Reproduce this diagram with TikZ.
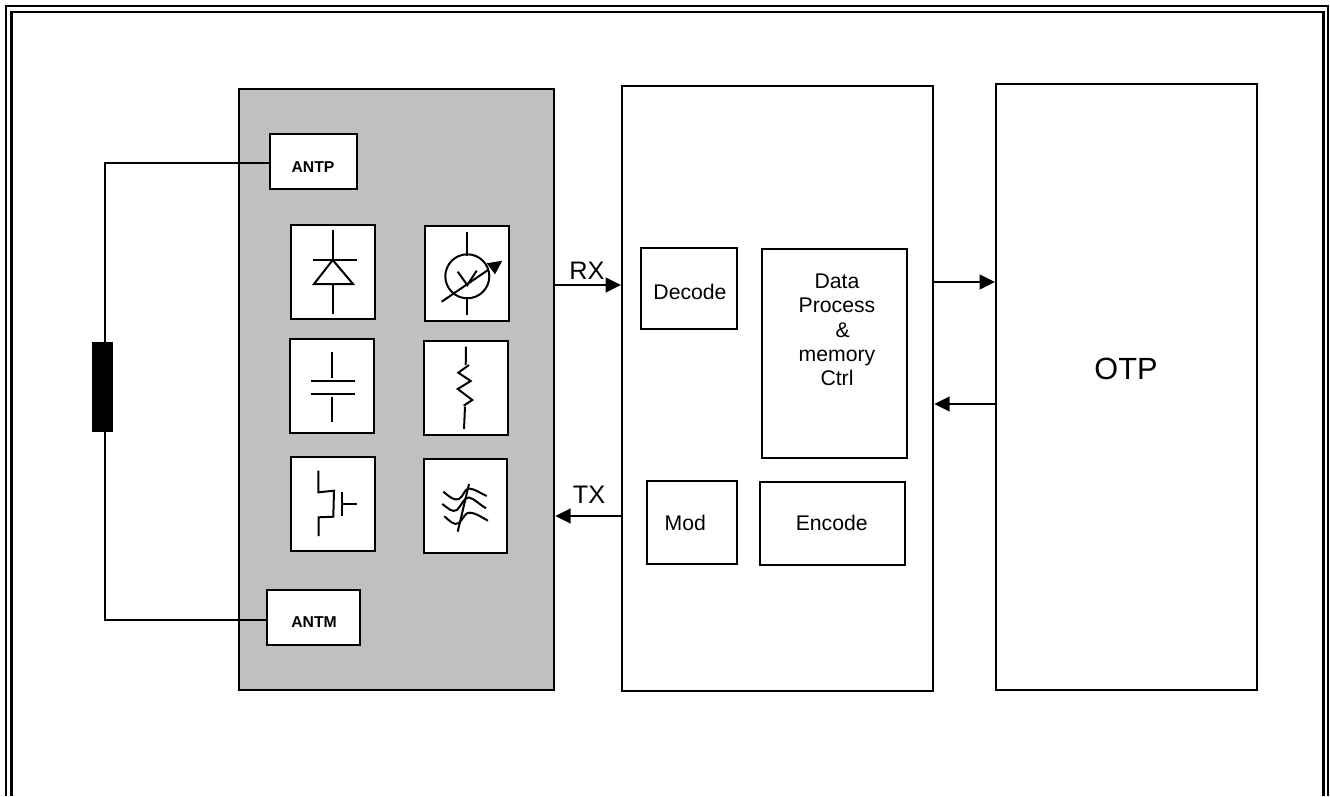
\documentclass[tikz,border=0pt]{standalone}
\usepackage{fontspec}
\setmainfont{Liberation Sans}
\usepackage{xcolor}
\usetikzlibrary{arrows.meta,positioning,calc}
\definecolor{chipgray}{HTML}{C0C0C0}
\tikzset{
  >={Triangle[length=11.5pt,width=11pt]},
  blk/.style   ={rectangle, draw, line width=1.4pt, fill=white, inner sep=0pt, anchor=north west},
  chip/.style  ={blk, fill=chipgray},
  pad/.style   ={blk},
  cell/.style  ={blk, line width=1.6pt},
  padt/.style  ={inner sep=0pt, font=\fontsize{11.8}{14}\selectfont\bfseries},
  txt/.style   ={inner sep=0pt, font=\fontsize{15.9}{18.3}\selectfont, align=center},
  big/.style   ={inner sep=0pt, font=\fontsize{23}{26}\selectfont},
  sig/.style   ={inner sep=0pt, font=\fontsize{19}{22}\selectfont},
  con/.style   ={->, draw, line width=1.4pt},
  wire/.style  ={draw, line width=1.5pt},
  sym/.style   ={draw, line width=1.5pt},
}
\begin{document}
\begin{tikzpicture}[x=0.75pt,y=-0.75pt]
\useasboundingbox (0,0) rectangle (1330,796);
% frame
\draw[line width=1.8pt] (6,796) -- (6,6) -- (1328,6) -- (1328,796);
\draw[line width=1.8pt] (11.5,796) -- (11.5,12) -- (1323.5,12) -- (1323.5,796);
% big blocks
\node[chip, minimum width=236.5pt, minimum height=451pt] (rf) at (238,88) {};
\node[blk, minimum width=233.5pt, minimum height=454pt] (dig) at (621,85) {};
\node[blk, minimum width=196pt, minimum height=454.5pt] (otp) at (995,83) {};
\node[big] (otpt) at (1126,369) {OTP};
% antenna
\node[rectangle, fill=black, draw, minimum width=15pt, minimum height=66.5pt, inner sep=0pt, anchor=north west] (coil) at (92,342) {};
\coordinate (coilt) at ([xshift=2pt]coil.north);
\coordinate (coilb) at ([xshift=2pt]coil.south);
\node[pad, minimum width=65.5pt, minimum height=41.5pt] (antp) at (269,133) {};
\node[pad, minimum width=70pt, minimum height=41.5pt] (antm) at (266,589) {};
\node[padt] (antpt) at (313,167.5) {ANTP};
\node[padt] (antmt) at (314,622) {ANTM};
\coordinate (antpw) at ([yshift=-0.9pt]antp.west);
\coordinate (antmw) at ([yshift=-2pt]antm.west);
\draw[wire] (antpw) -| (coilt);
\draw[wire] (antmw) -| (coilb);
% component cells
\node[cell, minimum width=63pt, minimum height=70.5pt] (diode) at (290,224) {};
\node[cell, minimum width=63pt, minimum height=71pt] (meter) at (424,225) {};
\node[cell, minimum width=63pt, minimum height=70.5pt] (capc) at (289,338) {};
\node[cell, minimum width=63pt, minimum height=70.5pt] (resc) at (423,340) {};
\node[cell, minimum width=63pt, minimum height=70.5pt] (fet) at (290,456) {};
\node[cell, minimum width=62.5pt, minimum height=70.5pt] (vari) at (423,458) {};
% diode
\draw[sym] (332.7,229.7) -- (332.7,260);
\draw[sym] (313,260) -- (357,260);
\draw[sym] (332.7,260) -- (314,284) -- (353,284) -- cycle;
\draw[sym] (332.7,283) -- (332.7,313.7);
% meter
\draw[sym] (467,232) -- (467,256);
\draw[sym] (467,297) -- (467,315);
\draw[sym] (467.3,276.3) circle (16.5pt);
\draw[sym] (457.7,271.7) -- (467.3,285) -- (476.7,270.7);
\draw[sym] (441.7,301.7) -- (488,270);
\fill (502.3,260.7) -- (486.7,263.3) -- (495,274.3) -- cycle;
% capacitor
\draw[sym] (331.7,352.3) -- (331.7,378.3);
\draw[sym] (311.3,380.7) -- (355,380.7);
\draw[sym] (311.3,394.3) -- (355,394.3);
\draw[sym] (331.7,396.7) -- (331.7,421.7);
% resistor
\draw[sym] (466,346.7) -- (465.7,365);
\draw[sym] (469,365) -- (458.3,372.7) -- (470.7,381) -- (457.7,389) -- (472.3,400) -- (463.7,405.7);
\draw[sym] (465,406.7) -- (464,429);
% transistor
\draw[sym] (318.3,470.7) -- (318.3,492.3) -- (334,490.7) -- (333.3,516.7) -- (318.7,517.3) -- (318.7,536);
\draw[sym] (342,492.3) -- (342,515.7);
\draw[sym] (342,504) -- (356.7,504);
% varactor
\draw[sym] (469,484) -- (457.7,531.7);
\draw[sym] (443.3,491.7) .. controls (450,497) and (454,501) .. (459,499) .. controls (464,496) and (464,489) .. (469,488.5) .. controls (475,489) and (480,493) .. (486.7,496);
\draw[sym] (442.3,504) .. controls (448,508) and (452,513) .. (457,510) .. controls (462,505) and (464,497) .. (469,497.5) .. controls (475,499) and (480,505) .. (486,508.3);
\draw[sym] (444.3,516.3) .. controls (450,521) and (454,526) .. (459,523) .. controls (464,518) and (465,512) .. (470,512.7) .. controls (476,513) and (481,517) .. (488,520.7);
% digital blocks
\node[blk, minimum width=72pt, minimum height=61pt] (dec) at (640,247) {};
\node[blk, minimum width=109pt, minimum height=157pt] (proc) at (761,248) {};
\node[blk, minimum width=67.5pt, minimum height=62.5pt] (mod) at (646,480) {};
\node[blk, minimum width=109pt, minimum height=62.5pt] (enc) at (759,481) {};
\node[txt] (dect) at (690,292) {Decode};
\node[txt] (proct) at (837,330) {Data\\Process\\\hspace{8.6pt}\&\\memory\\Ctrl};
\node[txt] (modt) at (685.3,523) {Mod};
\node[txt] (enct) at (831.7,523) {Encode};
% signals
\coordinate (rxa) at (rf.east |- 0,285);
\coordinate (rxb) at (dig.west |- 0,285);
\coordinate (txa) at (dig.west |- 0,516);
\coordinate (txb) at (rf.east |- 0,516);
\draw[con] (rxa) -- (rxb);
\draw[con] (txa) -- (txb);
\node[sig] (rx) at (587,271) {RX};
\node[sig] (tx) at (589,495) {TX};
\coordinate (wra) at (dig.east |- 0,282);
\coordinate (wrb) at (otp.west |- 0,282);
\coordinate (rda) at (otp.west |- 0,404);
\coordinate (rdb) at (dig.east |- 0,404);
\draw[con] (wra) -- (wrb);
\draw[con] (rda) -- (rdb);
\end{tikzpicture}
\end{document}
